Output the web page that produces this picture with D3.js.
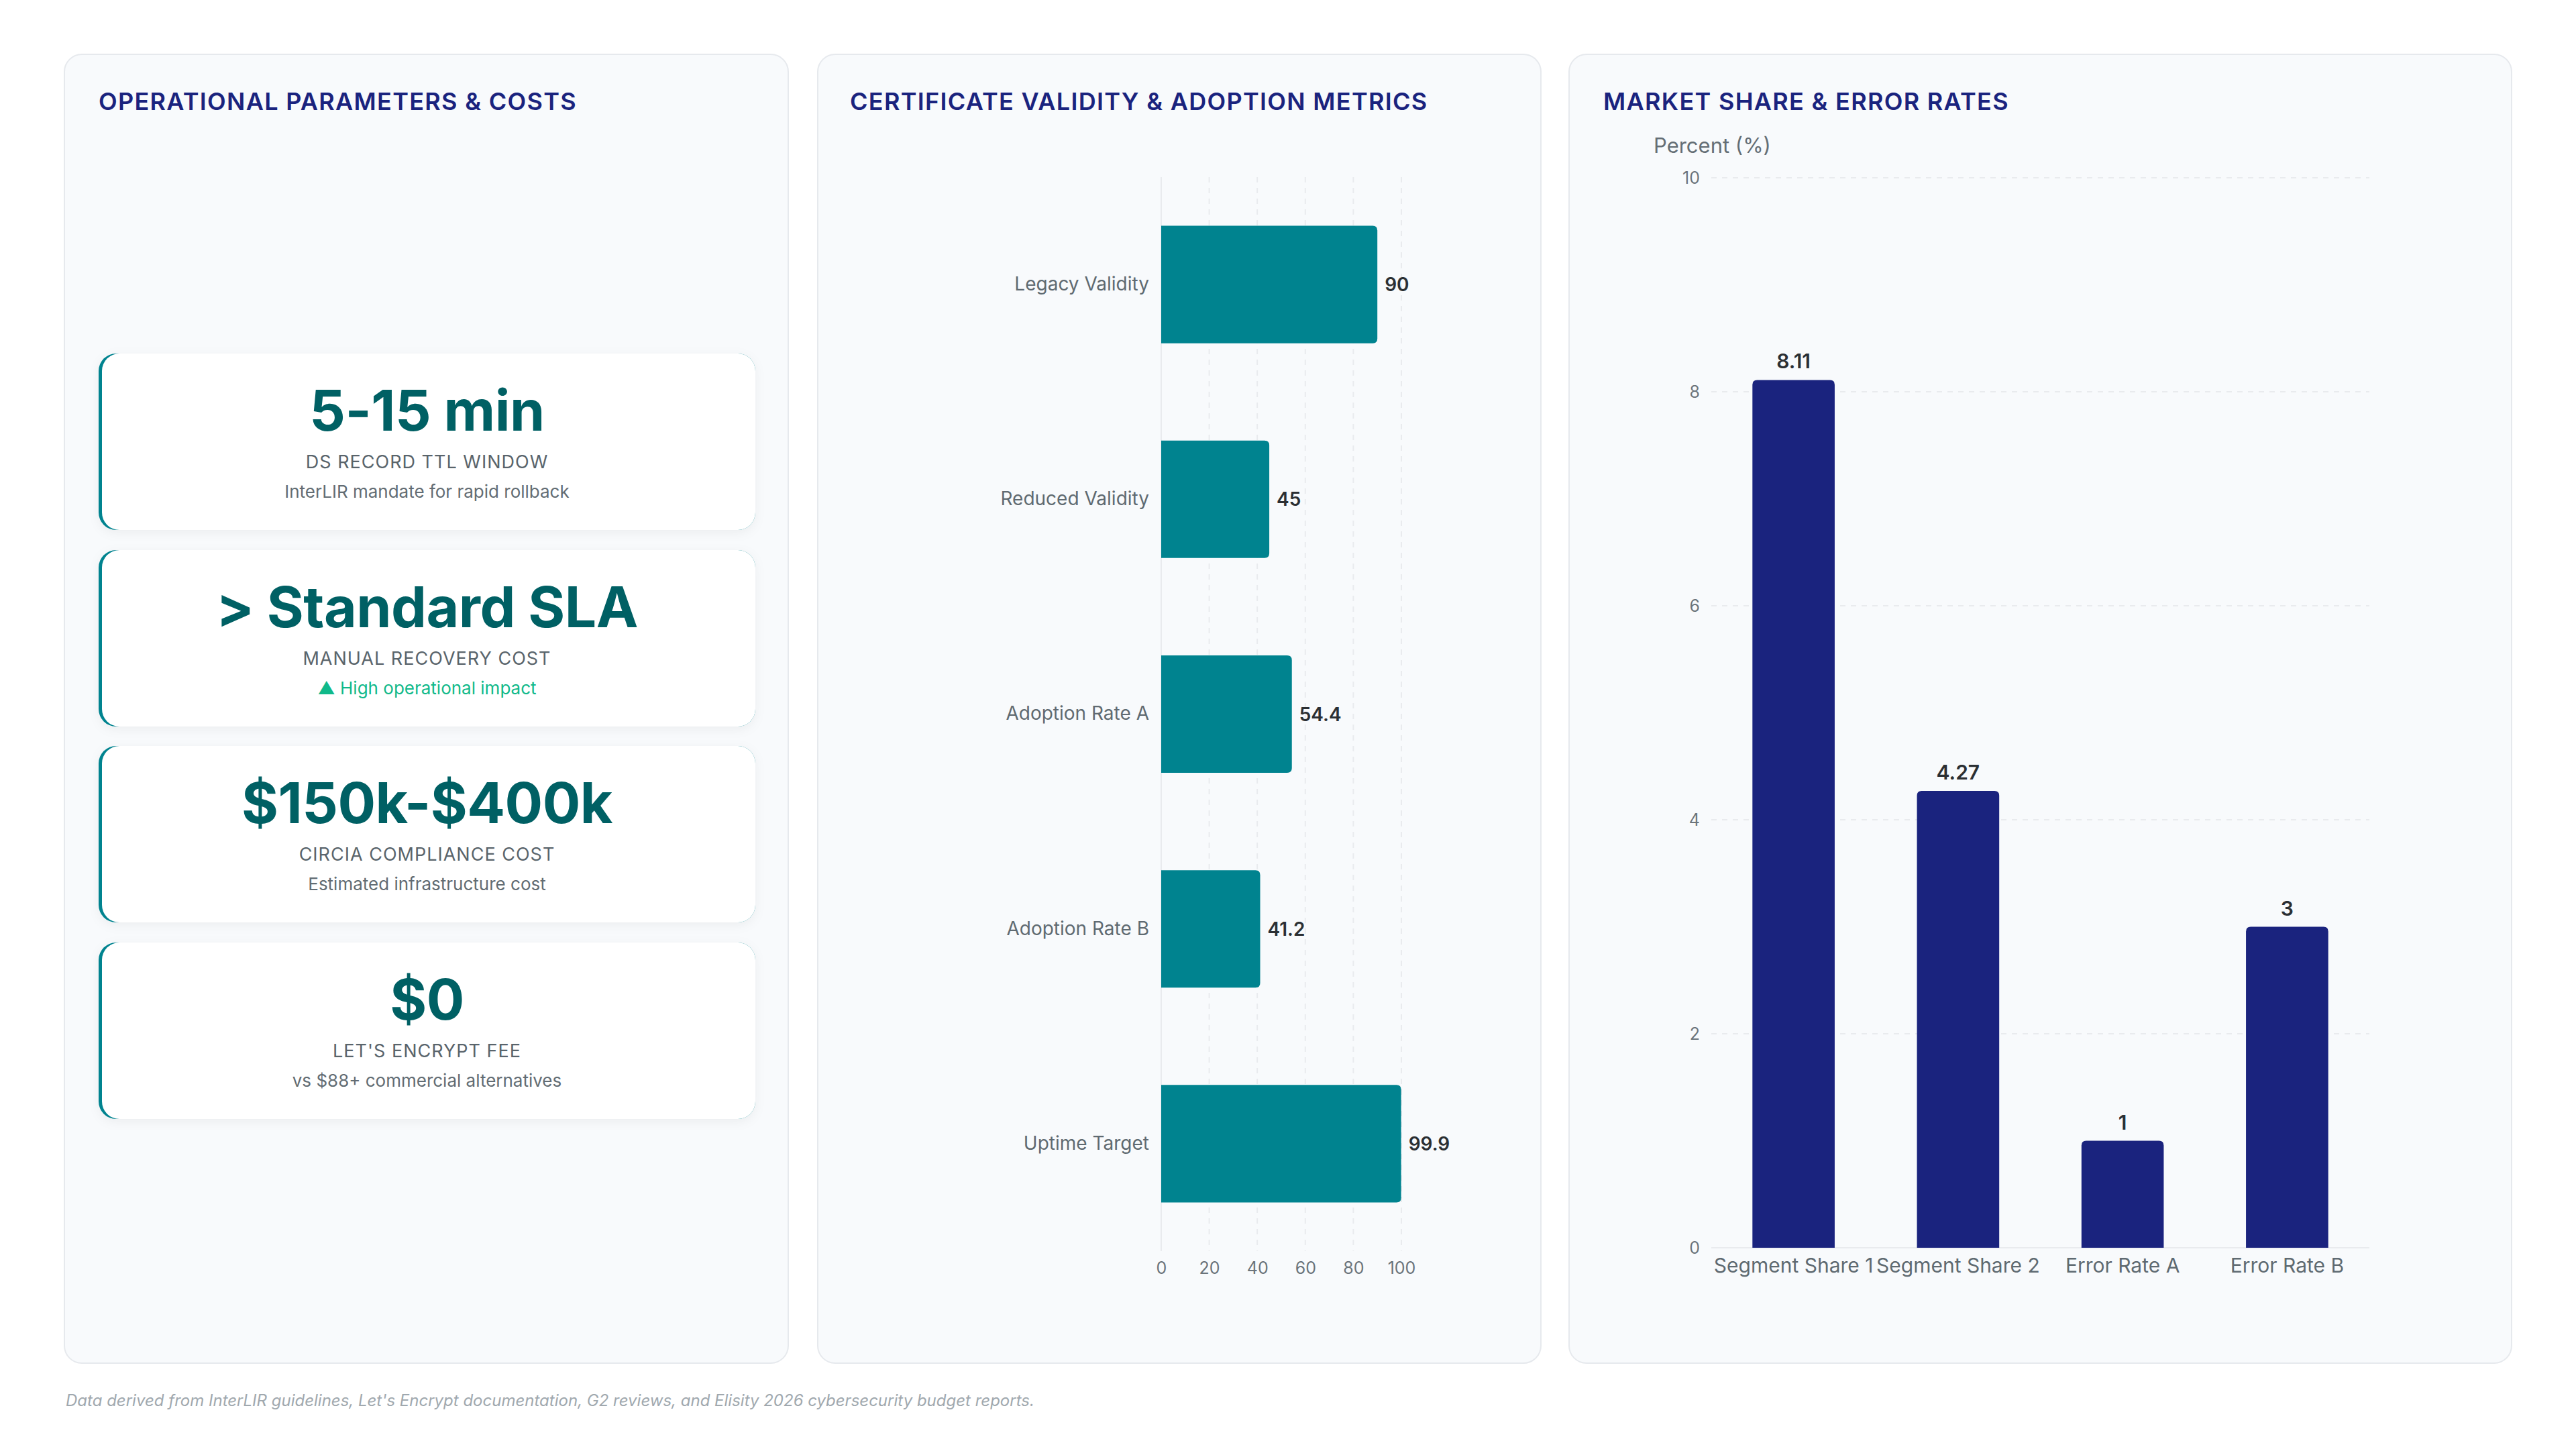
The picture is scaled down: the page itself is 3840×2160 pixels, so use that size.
<!DOCTYPE html>
<html>
<head>
<meta charset="utf-8">
<script src="https://cdn.jsdelivr.net/npm/d3@7"></script>
<style>
  html, body { margin: 0; padding: 0; background: #ffffff; }
  svg { display: block; font-family: Inter, "Noto Sans", sans-serif; }
</style>
</head>
<body>
<script>
// ---- data ----
var kpiValues = ["5-15 min", "> Standard SLA", "$150k-$400k", "$0"];
var kpiLabels = ["DS RECORD TTL WINDOW", "MANUAL RECOVERY COST", "CIRCIA COMPLIANCE COST", "LET'S ENCRYPT FEE"];
var kpiNotes = ["InterLIR mandate for rapid rollback", "\u25B2 High operational impact", "Estimated infrastructure cost", "vs $88+ commercial alternatives"];
var kpiTrend = [false, true, false, false];

var certCategories = ["Legacy Validity", "Reduced Validity", "Adoption Rate A", "Adoption Rate B", "Uptime Target"];
var certValues = [90, 45, 54.4, 41.2, 99.9];
var certTicks = [0, 20, 40, 60, 80, 100];

var shareCategories = ["Segment Share 1", "Segment Share 2", "Error Rate A", "Error Rate B"];
var shareValues = [8.11, 4.27, 1, 3];
var shareTicks = [0, 2, 4, 6, 8, 10];

var panelTitles = ["OPERATIONAL PARAMETERS & COSTS", "CERTIFICATE VALIDITY & ADOPTION METRICS", "MARKET SHARE & ERROR RATES"];
var footnote = "Data derived from InterLIR guidelines, Let's Encrypt documentation, G2 reviews, and Elisity 2026 cybersecurity budget reports.";

var W = 3840, H = 2160;
var navy = "#1a237e", teal = "#00838f", darkTeal = "#006064";

var svg = d3.select("body").append("svg").attr("width", W).attr("height", H);

var defs = svg.append("defs");
var sh = defs.append("filter").attr("id", "shadow").attr("x", "-10%").attr("y", "-10%").attr("width", "120%").attr("height", "130%");
sh.append("feDropShadow").attr("dx", 0).attr("dy", 4).attr("stdDeviation", 8)
  .attr("flood-color", "#000").attr("flood-opacity", 0.05);

// rounded-corner path helpers
function barRight(x, y, w, h, r) {
  r = Math.min(r, w, h / 2);
  return "M" + x + "," + y + "H" + (x + w - r) + "Q" + (x + w) + "," + y + " " + (x + w) + "," + (y + r) +
    "V" + (y + h - r) + "Q" + (x + w) + "," + (y + h) + " " + (x + w - r) + "," + (y + h) + "H" + x + "Z";
}
function barTop(x, y, w, h, r) {
  r = Math.min(r, w / 2, h);
  return "M" + x + "," + (y + h) + "V" + (y + r) + "Q" + x + "," + y + " " + (x + r) + "," + y +
    "H" + (x + w - r) + "Q" + (x + w) + "," + y + " " + (x + w) + "," + (y + r) + "V" + (y + h) + "Z";
}

// ---- panels ----
var panelX = [96, 1219, 2339], panelW = [1079, 1078, 1405];
var panelTop = 81, panelH = 1951;
var titleX = [147, 1267, 2390];

panelX.forEach(function(px, i) {
  svg.append("rect")
    .attr("x", px).attr("y", panelTop).attr("width", panelW[i]).attr("height", panelH)
    .attr("rx", 26).attr("fill", "#f8fafc").attr("stroke", "#e6e9ed").attr("stroke-width", 2);
  svg.append("text")
    .attr("x", titleX[i]).attr("y", 164)
    .attr("font-size", 36).attr("font-weight", 600).attr("letter-spacing", 1.3)
    .attr("fill", navy).text(panelTitles[i]);
});

// ---- KPI cards ----
var cardX = 147, cardW = 979, cardH = 263, cardTops = [527, 820, 1112, 1405];

var cards = svg.selectAll("g.kpi").data(kpiValues).enter().append("g")
  .attr("class", "kpi")
  .attr("transform", function(d, i) { return "translate(" + cardX + "," + cardTops[i] + ")"; });

cards.append("rect").attr("width", cardW).attr("height", cardH).attr("rx", 26)
  .attr("fill", teal).attr("filter", "url(#shadow)");
cards.append("rect").attr("x", 5).attr("width", cardW - 5).attr("height", cardH).attr("rx", 26)
  .attr("fill", "#ffffff");

cards.append("text").attr("x", cardW / 2).attr("y", 115).attr("text-anchor", "middle")
  .attr("font-size", 84).attr("font-weight", 700).attr("letter-spacing", -0.5)
  .attr("fill", darkTeal).text(function(d) { return d; });
cards.append("text").attr("x", cardW / 2).attr("y", 171).attr("text-anchor", "middle")
  .attr("font-size", 27).attr("font-weight", 400).attr("letter-spacing", 1)
  .attr("fill", "#59646b").text(function(d, i) { return kpiLabels[i]; });
cards.append("text").attr("x", cardW / 2).attr("y", 215).attr("text-anchor", "middle")
  .attr("font-size", 26)
  .attr("fill", function(d, i) { return kpiTrend[i] ? "#10b98a" : "#626c73"; })
  .text(function(d, i) { return kpiNotes[i]; });

// ---- horizontal bar chart ----
var hx = d3.scaleLinear().domain([0, 100]).range([1731, 2089]);
var hy = d3.scaleBand().domain(certCategories).range([264, 1865]).paddingInner(0.453).paddingOuter(0.2265);

var g2 = svg.append("g");
g2.selectAll("line.grid").data(certTicks).enter().append("line")
  .attr("class", "grid")
  .attr("x1", function(d) { return hx(d); }).attr("x2", function(d) { return hx(d); })
  .attr("y1", 264).attr("y2", 1865)
  .attr("stroke", "#e9ebee").attr("stroke-width", 2)
  .attr("stroke-dasharray", function(d) { return d === 0 ? null : "8,8"; });

var xAxis = d3.axisBottom(hx).tickValues(certTicks).tickSize(0).tickPadding(0);
var xa = g2.append("g").attr("transform", "translate(0,1899)").call(xAxis);
xa.select(".domain").remove();
xa.selectAll("text").attr("font-size", 25).attr("fill", "#6b747b").attr("font-family", "Inter").attr("dy", 0);

var yAxis = d3.axisLeft(hy).tickSize(0).tickPadding(0);
var ya = g2.append("g").attr("transform", "translate(1713,0)").call(yAxis);
ya.select(".domain").remove();
ya.selectAll("text").attr("font-size", 28).attr("fill", "#5f6a71").attr("font-family", "Inter");

g2.selectAll("path.bar").data(certValues).enter().append("path")
  .attr("class", "bar").attr("fill", teal)
  .attr("d", function(d, i) {
    var y = hy(certCategories[i]);
    return barRight(hx(0), y, hx(d) - hx(0), hy.bandwidth(), 7);
  });

g2.selectAll("text.val").data(certValues).enter().append("text")
  .attr("class", "val")
  .attr("x", function(d) { return hx(d) + 11; })
  .attr("y", function(d, i) { return hy(certCategories[i]) + hy.bandwidth() / 2 + 10; })
  .attr("font-size", 28).attr("font-weight", 600).attr("fill", "#2b2f33")
  .text(function(d) { return d; });

// ---- vertical bar chart ----
var vx = d3.scaleBand().domain(shareCategories).range([2551, 3532]).paddingInner(0.5).paddingOuter(0.25);
var vy = d3.scaleLinear().domain([0, 10]).range([1860, 265]);

var g3 = svg.append("g");
g3.selectAll("line.grid").data(shareTicks).enter().append("line")
  .attr("class", "grid")
  .attr("x1", 2551).attr("x2", 3532)
  .attr("y1", function(d) { return vy(d); }).attr("y2", function(d) { return vy(d); })
  .attr("stroke", "#e9ebee").attr("stroke-width", 2)
  .attr("stroke-dasharray", function(d) { return d === 0 ? null : "8,8"; });

var vyAxis = d3.axisLeft(vy).tickValues(shareTicks).tickSize(0).tickPadding(0);
var vya = g3.append("g").attr("transform", "translate(2534,0)").call(vyAxis);
vya.select(".domain").remove();
vya.selectAll("text").attr("font-size", 25).attr("fill", "#6b747b").attr("font-family", "Inter");

var vxAxis = d3.axisBottom(vx).tickSize(0).tickPadding(0);
var vxa = g3.append("g").attr("transform", "translate(0,1876)").call(vxAxis);
vxa.select(".domain").remove();
vxa.selectAll("text").attr("font-size", 30).attr("fill", "#5f6a71").attr("font-family", "Inter");

g3.append("text").attr("x", 2465).attr("y", 228)
  .attr("font-size", 31).attr("fill", "#646e75").text("Percent (%)");

g3.selectAll("path.bar").data(shareValues).enter().append("path")
  .attr("class", "bar").attr("fill", navy)
  .attr("d", function(d, i) {
    var x = vx(shareCategories[i]);
    return barTop(x, vy(d), vx.bandwidth(), vy(0) - vy(d), 7);
  });

g3.selectAll("text.val").data(shareValues).enter().append("text")
  .attr("class", "val")
  .attr("x", function(d, i) { return vx(shareCategories[i]) + vx.bandwidth() / 2; })
  .attr("y", function(d) { return vy(d) - 17; })
  .attr("text-anchor", "middle")
  .attr("font-size", 30).attr("font-weight", 600).attr("fill", "#2b2f33")
  .text(function(d) { return d; });

// ---- footnote ----
svg.append("text").attr("x", 98).attr("y", 2096)
  .attr("font-size", 24).attr("font-style", "italic").attr("fill", "#a0a8ae")
  .text(footnote);
</script>
</body>
</html>
